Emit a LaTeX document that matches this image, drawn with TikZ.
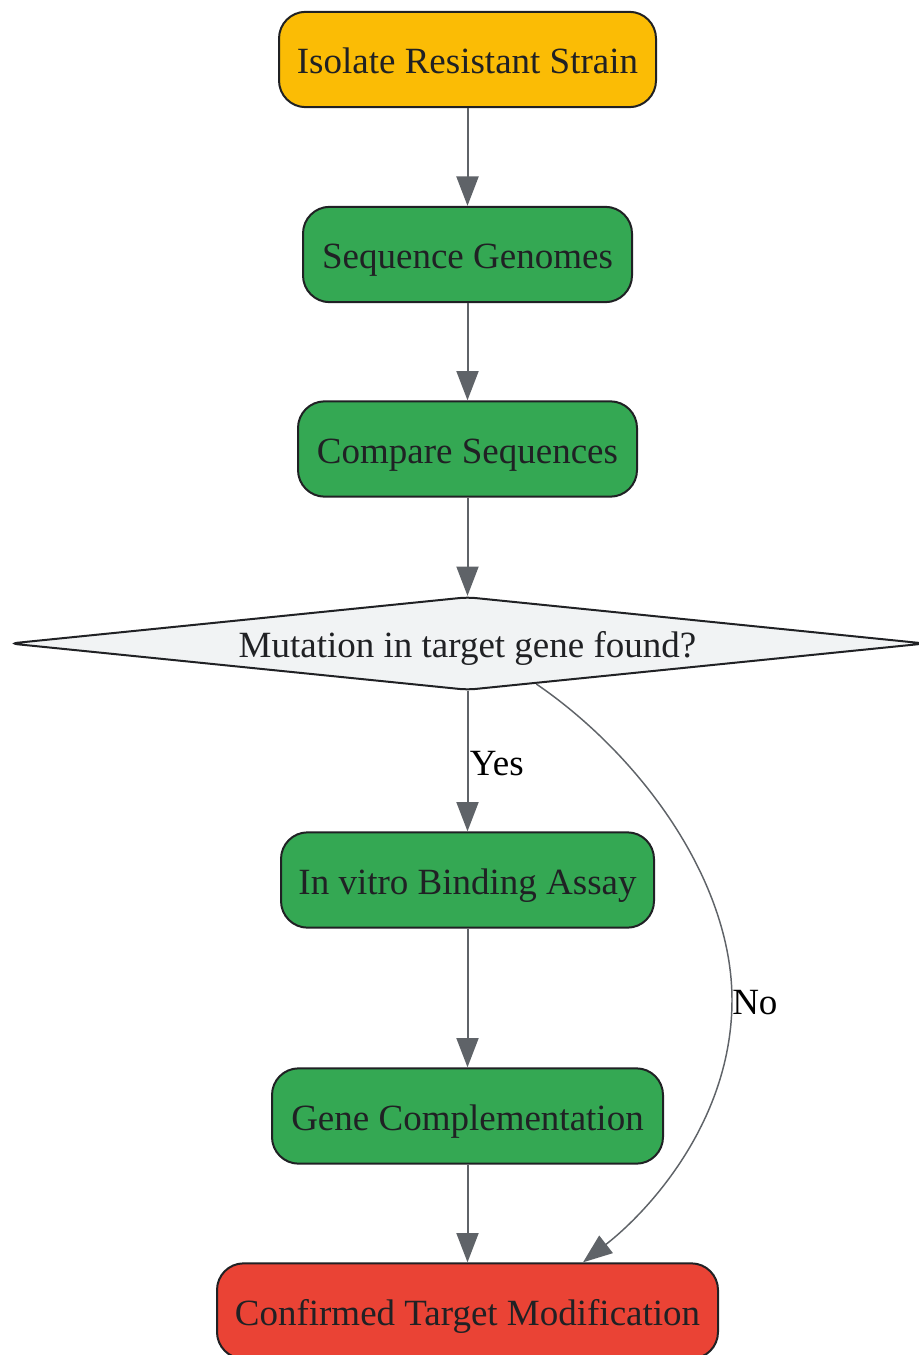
\documentclass[tikz,border=0pt]{standalone}
\usepackage{fontspec}
\setmainfont{Liberation Serif}
\usetikzlibrary{shapes.geometric,arrows.meta,calc}
\definecolor{stepyellow}{HTML}{FBBC05}
\definecolor{stepgreen}{HTML}{34A853}
\definecolor{stepred}{HTML}{EA4335}
\definecolor{decgray}{HTML}{F1F3F4}
\definecolor{edgegray}{HTML}{5F6368}
\definecolor{inkdark}{HTML}{202124}
\begin{document}
\begin{tikzpicture}[
  x=0.75pt,y=-0.75pt,
  font=\fontsize{27.75pt}{33pt}\selectfont,
  box/.style={draw=inkdark, line width=1.5pt, rounded corners=20pt, text=inkdark, align=center, inner sep=0pt, text height=21pt, text depth=0pt, minimum height=71.5pt},
  decision/.style={diamond, draw=inkdark, line width=1.5pt, rounded corners=6pt, fill=decgray, text=inkdark, aspect=9.8, inner sep=0pt, text height=21pt, text depth=0pt, minimum width=687pt, minimum height=70pt},
  arrow/.style={-{Triangle[length=22pt,width=16.5pt]}, edgegray, line width=1.5pt},
  lbl/.style={text=black, inner sep=0pt, text height=21pt, text depth=0pt}
]
\useasboundingbox (0,0) rectangle (919,1355);

\node[box, fill=stepyellow, minimum width=282.75pt] (isolate) at (467.5,59.5) {Isolate Resistant Strain};
\node[box, fill=stepgreen, minimum width=246.75pt] (sequence) at (467.5,254.5) {Sequence Genomes};
\node[box, fill=stepgreen, minimum width=254.25pt] (compare) at (467.5,449) {Compare Sequences};
\node[decision] (found) at (467.5,643.5) {Mutation in target gene found?};
\node[box, fill=stepgreen, minimum width=279.75pt] (binding) at (467.5,880) {In vitro Binding Assay};
\node[box, fill=stepgreen, minimum width=293.25pt] (complement) at (467.5,1116) {Gene Complementation};
\node[box, fill=stepred, minimum width=375.75pt] (confirmed) at (467.5,1311) {Confirmed Target Modification};

\draw[arrow] (isolate) -- (sequence);
\draw[arrow] (sequence) -- (compare);
\draw[arrow] (compare) -- (found);
\draw[arrow] (found) -- node[lbl, right=1pt] {Yes} (binding);
\draw[arrow] (binding) -- (complement);
\draw[arrow] (complement) -- (confirmed);

% the "No" branch bends round the right side
\coordinate (nostart) at ($(found.south)!0.15!(found.east)$);
\coordinate (nomid) at (732,1000);
\coordinate (noend) at ([xshift=86.6pt]confirmed.north);
\draw[edgegray, line width=1.1pt] (nostart) .. controls (640,755) and (732,880) .. (nomid);
\draw[arrow, line width=1.1pt] (nomid) .. controls (732,1120) and (650,1210) .. (noend);
\node[lbl, anchor=west] (nolabel) at (nomid) {No};
\end{tikzpicture}
\end{document}
